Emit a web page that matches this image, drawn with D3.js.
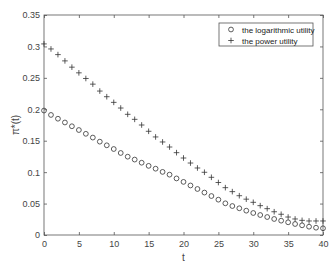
<!DOCTYPE html>
<html>
<head>
<meta charset="utf-8">
<script src="https://cdn.jsdelivr.net/npm/d3@7"></script>
<style>
  body { margin: 0; background: #fff; }
  text { font-family: "Liberation Sans", Arial, sans-serif; }
</style>
</head>
<body>
<script>
// t = 0..40
var tValues = d3.range(0, 41);
var logUtility = [0.198, 0.191, 0.185, 0.179, 0.173, 0.167, 0.161, 0.155, 0.1485, 0.1427,
  0.1368, 0.1305, 0.1246, 0.120, 0.115, 0.110, 0.1055, 0.1004, 0.096, 0.090,
  0.0845, 0.0788, 0.0732, 0.0675, 0.062, 0.0562, 0.0504, 0.0461, 0.0425, 0.0387,
  0.035, 0.0318, 0.0286, 0.0255, 0.0228, 0.0202, 0.0175, 0.0154, 0.0132, 0.0116, 0.0107];
var powerUtility = [0.304, 0.296, 0.287, 0.277, 0.267, 0.258, 0.249, 0.240, 0.229, 0.220,
  0.211, 0.202, 0.192, 0.184, 0.175, 0.165, 0.156, 0.148, 0.140, 0.131,
  0.1225, 0.1145, 0.1066, 0.0998, 0.0918, 0.0835, 0.0753, 0.069, 0.0625, 0.057,
  0.052, 0.0467, 0.0419, 0.037, 0.033, 0.0286, 0.0255, 0.0233, 0.0223, 0.0223, 0.0223];
var xTicks = [0, 5, 10, 15, 20, 25, 30, 35, 40];
var yTicks = [0, 0.05, 0.1, 0.15, 0.2, 0.25, 0.3, 0.35];
var legendLabels = ["the logarithmic utility", "the power utility"];

var width = 335, height = 268;
var margin = {left: 44, right: 12, top: 15, bottom: 33};
var axisColor = "#555", textColor = "#444", markColor = "#333";

var svg = d3.select("body").append("svg").attr("width", width).attr("height", height);

var x = d3.scaleLinear().domain([0, 40]).range([margin.left, width - margin.right]);
var y = d3.scaleLinear().domain([0, 0.35]).range([height - margin.bottom, margin.top]);

function styleAxis(g, showLabels) {
    g.select(".domain").remove();
    g.selectAll(".tick line").attr("stroke", axisColor).attr("stroke-width", 0.8);
    g.selectAll(".tick text").attr("fill", textColor).style("font-size", "9px");
    if (!showLabels) g.selectAll(".tick text").remove();
}

svg.append("g").attr("transform", "translate(0," + y(0) + ")")
    .call(d3.axisBottom(x).tickValues(xTicks).tickSize(-3).tickPadding(6).tickFormat(d3.format("d")))
    .call(styleAxis, true);
svg.append("g").attr("transform", "translate(0," + y(0.35) + ")")
    .call(d3.axisTop(x).tickValues(xTicks).tickSize(-3))
    .call(styleAxis, false);
svg.append("g").attr("transform", "translate(" + x(0) + ",0)")
    .call(d3.axisLeft(y).tickValues(yTicks).tickSize(-3).tickPadding(4).tickFormat(function (d) { return String(+d.toFixed(2)); }))
    .call(styleAxis, true);
svg.append("g").attr("transform", "translate(" + x(40) + ",0)")
    .call(d3.axisRight(y).tickValues(yTicks).tickSize(-3))
    .call(styleAxis, false);

svg.append("rect")
    .attr("x", x(0)).attr("y", y(0.35))
    .attr("width", x(40) - x(0)).attr("height", y(0) - y(0.35))
    .attr("fill", "none").attr("stroke", axisColor).attr("stroke-width", 0.8);

// axis labels
svg.append("text").attr("x", x(20)).attr("y", 261).attr("text-anchor", "middle")
    .attr("fill", textColor).style("font-size", "10px").text("t");
svg.append("text").attr("transform", "translate(19," + y(0.175) + ") rotate(-90)")
    .attr("text-anchor", "middle").attr("fill", textColor).style("font-size", "10px")
    .text("π*(t)");

// markers
svg.append("g").selectAll("circle").data(tValues).join("circle")
    .attr("cx", function (d) { return x(d); })
    .attr("cy", function (d, i) { return y(logUtility[i]); })
    .attr("r", 2.4)
    .attr("fill", "none").attr("stroke", markColor).attr("stroke-width", 0.8);

function plusPath(cx, cy, s) {
    return "M" + (cx - s) + "," + cy + "H" + (cx + s) + "M" + cx + "," + (cy - s) + "V" + (cy + s);
}
svg.append("g").selectAll("path").data(tValues).join("path")
    .attr("d", function (d, i) { return plusPath(x(d), y(powerUtility[i]), 2.8); })
    .attr("fill", "none").attr("stroke", markColor).attr("stroke-width", 0.8);

// legend
var lg = svg.append("g");
lg.append("rect").attr("x", 219).attr("y", 23).attr("width", 94).attr("height", 23)
    .attr("fill", "#fff").attr("stroke", axisColor).attr("stroke-width", 0.8);
lg.append("circle").attr("cx", 231).attr("cy", 29.5).attr("r", 2.4)
    .attr("fill", "none").attr("stroke", markColor).attr("stroke-width", 0.8);
lg.append("path").attr("d", plusPath(231, 40.5, 2.8))
    .attr("fill", "none").attr("stroke", markColor).attr("stroke-width", 0.8);
lg.selectAll("text").data(legendLabels).join("text")
    .attr("x", 242).attr("y", function (d, i) { return 32.5 + i * 11; })
    .attr("fill", "#222").style("font-size", "8px").text(function (d) { return d; });
</script>
</body>
</html>
